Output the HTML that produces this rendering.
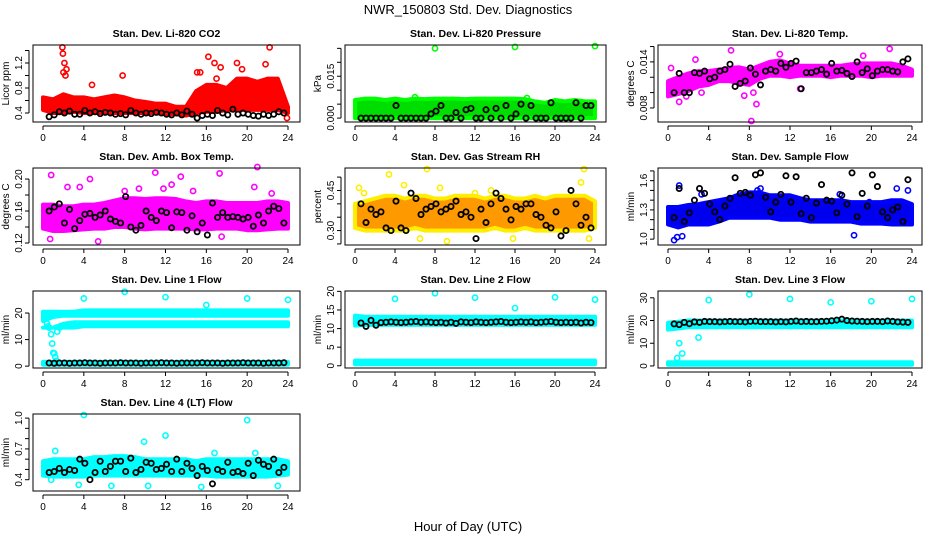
<!DOCTYPE html>
<html><head><meta charset="utf-8"><style>
body{margin:0;background:#fff;}
svg{display:block;font-family:"Liberation Sans",sans-serif;}
</style></head><body>
<svg id="c" width="936" height="540" viewBox="0 0 936 540">
<text x="468" y="14" text-anchor="middle" font-size="13">NWR_150803  Std. Dev. Diagnostics</text>
<text x="468" y="531" text-anchor="middle" font-size="13">Hour of Day (UTC)</text>
</svg>
<script>
// ---- data ----
const hours = [0,1,2,3,4,5,6,7,8,9,10,11,12,13,14,15,16,17,18,19,20,21,22,23,24];
const xTicks = [0,4,8,12,16,20,24];

const co2Lo = [0.45,0.40,0.40,0.42,0.40,0.40,0.40,0.40,0.40,0.40,0.40,0.40,0.38,0.38,0.36,0.40,0.42,0.42,0.45,0.45,0.45,0.45,0.45,0.45,0.40];
const co2Hi = [0.65,0.62,0.70,0.65,0.65,0.62,0.65,0.68,0.65,0.60,0.58,0.55,0.55,0.50,0.50,0.75,0.85,0.85,0.80,0.95,0.95,0.90,0.95,0.95,0.50];
const co2OutX = [1.9,1.95,2.0,2.1,2.3,2.2,7.8,4.8,15.1,15.4,16.2,16.8,17.4,19.0,21.8,22.2,23.9,17.0,19.5];
const co2OutY = [1.45,1.35,1.05,1.2,1.1,1.0,1.0,0.85,1.05,1.05,1.3,1.2,1.13,1.2,1.18,1.45,0.32,0.95,1.1];
const co2Black = [0.34,0.37,0.42,0.40,0.43,0.38,0.38,0.44,0.40,0.42,0.39,0.41,0.40,0.38,0.39,0.37,0.44,0.40,0.38,0.40,0.39,0.41,0.40,0.38,0.37,0.40,0.37,0.43,0.38,0.32,0.36,0.38,0.36,0.44,0.40,0.37,0.46,0.38,0.40,0.38,0.36,0.35,0.38,0.36,0.38,0.42,0.40];

const presLo = [0,0,0,0,0,0,0,0,0,0,0,0,0,0,0,0,0,0,0,0,0,0,0,0,0];
const presHi = [0.0065,0.007,0.007,0.0065,0.007,0.0065,0.007,0.0068,0.007,0.007,0.007,0.0068,0.007,0.007,0.007,0.007,0.007,0.0068,0.006,0.0055,0.0065,0.006,0.0065,0.006,0.006];
const presOutX = [8,16,24,6,17.2];
const presOutY = [0.025,0.0255,0.0258,0.0075,0.0072];
const presBlack = [0,0,0,0,0,0,0,0.0045,0,0,0,0,0,0,0.0015,0.0025,0.0045,0,0,0.002,0,0.003,0.0035,0,0,0.003,0,0.0035,0,0.0045,0,0.0015,0.005,0,0.0045,0,0,0,0.0055,0,0,0,0,0.0055,0,0.0045,0.0045];

const tempLo = [0.0095,0.0098,0.0102,0.0108,0.011,0.0115,0.0115,0.0112,0.011,0.0118,0.0122,0.0122,0.012,0.0122,0.0122,0.0122,0.012,0.0122,0.0122,0.0122,0.012,0.0122,0.0122,0.0122,0.0122];
const tempHi = [0.0115,0.012,0.0125,0.0128,0.0128,0.013,0.0132,0.0133,0.013,0.0135,0.014,0.0142,0.0138,0.0135,0.0135,0.0135,0.0135,0.0135,0.0137,0.0138,0.0138,0.0138,0.0138,0.0135,0.013];
const tempOutX = [8.2,8.7,6.2,2.7,1.1,7.5,0.3,21.8,11,19.2,1.8,3.3,8.4,13];
const tempOutY = [0.0063,0.0085,0.0155,0.0143,0.0088,0.0096,0.0132,0.0157,0.015,0.0148,0.0095,0.0100,0.0100,0.0105];
const tempBlack = [0.0100,0.0125,0.0100,0.0100,0.0126,0.0125,0.0128,0.0118,0.0120,0.0128,0.0130,0.0137,0.0108,0.0112,0.0115,0.0132,0.0124,0.0110,0.0128,0.0130,0.0128,0.0138,0.0133,0.0138,0.0141,0.0105,0.0126,0.0126,0.0128,0.0130,0.0124,0.0138,0.0128,0.0129,0.0125,0.0121,0.0140,0.0126,0.0131,0.0122,0.0128,0.0130,0.0130,0.0128,0.0127,0.0140,0.0144];

const ambLo = [0.138,0.135,0.135,0.136,0.137,0.138,0.138,0.140,0.140,0.138,0.137,0.138,0.138,0.138,0.138,0.137,0.137,0.138,0.138,0.138,0.136,0.136,0.137,0.138,0.138];
const ambHi = [0.168,0.168,0.166,0.166,0.168,0.168,0.170,0.173,0.176,0.176,0.175,0.176,0.176,0.175,0.172,0.170,0.172,0.172,0.170,0.170,0.170,0.170,0.172,0.172,0.170];
const ambOutX = [0.8,4.6,5.4,11.0,11.8,13.5,17.3,21.0,0.7,3.6,9.4,12.6,17.5,20.7,2.4,8.0,14.7,22.4];
const ambOutY = [0.205,0.200,0.122,0.208,0.188,0.203,0.207,0.215,0.125,0.190,0.188,0.193,0.128,0.190,0.190,0.185,0.185,0.182];
const ambBlack = [0.160,0.165,0.169,0.145,0.162,0.138,0.148,0.156,0.157,0.152,0.155,0.160,0.150,0.147,0.145,0.178,0.140,0.136,0.142,0.160,0.152,0.148,0.160,0.158,0.139,0.159,0.158,0.136,0.154,0.134,0.145,0.130,0.170,0.152,0.158,0.152,0.153,0.152,0.150,0.152,0.141,0.155,0.145,0.160,0.166,0.163,0.145];

const rhLo = [0.31,0.30,0.30,0.30,0.30,0.30,0.31,0.30,0.30,0.30,0.30,0.30,0.30,0.30,0.31,0.30,0.30,0.31,0.30,0.30,0.30,0.30,0.30,0.30,0.31];
const rhHi = [0.40,0.41,0.42,0.43,0.43,0.42,0.43,0.43,0.42,0.42,0.43,0.43,0.43,0.42,0.43,0.43,0.42,0.42,0.43,0.42,0.43,0.43,0.43,0.43,0.41];
const rhOutX = [0.4,3.4,4.9,7.2,8.5,9.2,6.5,12.0,15.8,22.9,22.6,23.4,13.6,0.9];
const rhOutY = [0.46,0.51,0.47,0.53,0.46,0.26,0.27,0.44,0.27,0.53,0.48,0.27,0.45,0.44];
const rhBlack = [0.40,0.33,0.38,0.36,0.37,0.31,0.30,0.41,0.31,0.30,0.44,0.42,0.36,0.38,0.39,0.40,0.37,0.38,0.39,0.41,0.36,0.37,0.35,0.27,0.38,0.33,0.40,0.44,0.42,0.38,0.34,0.39,0.38,0.40,0.40,0.36,0.35,0.32,0.31,0.37,0.28,0.30,0.45,0.40,0.32,0.35,0.31];

const flowLo = [1.15,1.12,1.15,1.15,1.15,1.18,1.22,1.22,1.22,1.22,1.22,1.20,1.20,1.20,1.18,1.18,1.18,1.18,1.18,1.16,1.16,1.16,1.15,1.15,1.15];
const flowHi = [1.33,1.33,1.35,1.36,1.38,1.40,1.42,1.46,1.48,1.48,1.45,1.45,1.45,1.42,1.40,1.40,1.40,1.40,1.38,1.38,1.38,1.38,1.40,1.40,1.36];
const flowOutX = [0.6,0.9,1.1,18.3,23.6,22.5,3.3,11.3,9.1,16.9,19.8,8.8,1.4];
const flowOutY = [0.99,1.02,1.55,1.04,1.5,1.52,1.46,1.42,1.52,1.46,1.38,1.50,1.03];
const flowBlack = [1.22,1.52,1.18,1.27,1.40,1.52,1.47,1.36,1.28,1.20,1.34,1.42,1.63,1.47,1.48,1.45,1.66,1.68,1.43,1.28,1.38,1.46,1.65,1.38,1.64,1.26,1.42,1.22,1.37,1.56,1.40,1.39,1.27,1.45,1.36,1.68,1.23,1.47,1.34,1.66,1.54,1.28,1.22,1.30,1.33,1.18,1.61];

const l1aLo = [17,18.5,19,19,19,19,19,19,19,19,19,19,19,19,19,19,19,19,19,19,19,19,19,19,19];
const l1aHi = [20.5,20.5,20.5,20.5,21,21,21,21,21,21,21,21,21,21,21,21,21,21,21,21,21,21,21,21,21];
const l1bLo = [14.5,14.5,14.5,14.5,15,15,15,15,15,15,15,15,15,15,15,15,15,15,15,15,15,15,15,15,15];
const l1bHi = [14.5,14.5,16,16.5,16.5,16.5,16.5,16.5,16.5,16.5,16.5,16.5,16.5,16.5,16.5,16.5,16.5,16.5,16.5,16.5,16.5,16.5,16.5,16.5,16.5];
const l1cLo = [0.5,0.5,0.5,0.5,0.5,0.5,0.5,0.5,0.5,0.5,0.5,0.5,0.5,0.5,0.5,0.5,0.5,0.5,0.5,0.5,0.5,0.5,0.5,0.5,0.5];
const l1cHi = [1.6,1.6,1.6,1.6,1.6,1.6,1.6,1.6,1.6,1.6,1.6,1.6,1.6,1.6,1.6,1.6,1.6,1.6,1.6,1.6,1.6,1.6,1.6,1.6,1.6];
const l1OutX = [0.3,0.4,0.5,0.6,0.8,0.9,1.0,1.1,1.2,1.3,1.4,1.6,4,8,12,16,20,24];
const l1OutY = [19,16,15,14.5,12,8.5,5,4.8,3.5,2,13,14.5,25.5,28,26,23,25.5,25];
const l1Black = [1.2,1.1,1.2,1.2,1.1,1.2,1.2,1.3,1.2,1.2,1.1,1.2,1.2,1.2,1.3,1.2,1.2,1.2,1.1,1.2,1.2,1.2,1.3,1.2,1.2,1.1,1.2,1.2,1.2,1.2,1.3,1.2,1.2,1.2,1.1,1.2,1.2,1.2,1.3,1.2,1.2,1.2,1.1,1.2,1.2,1.2,1.3];

const l2aLo = [10.8,11,11,11,11,11,11,11,11,11,11,11,11,11,11,11,11,11,11,11,11,11,11,11,11];
const l2aHi = [13.5,13.2,13.2,13.2,13.2,13.2,13.2,13.2,13.2,13.2,13.2,13.2,13.2,13.2,13.2,13.2,13.2,13.2,13.2,13.2,13.2,13.2,13.2,13.2,13.2];
const l2bLo = [0.4,0.4,0.4,0.4,0.4,0.4,0.4,0.4,0.4,0.4,0.4,0.4,0.4,0.4,0.4,0.4,0.4,0.4,0.4,0.4,0.4,0.4,0.4,0.4,0.4];
const l2bHi = [1.4,1.4,1.4,1.4,1.4,1.4,1.4,1.4,1.4,1.4,1.4,1.4,1.4,1.4,1.4,1.4,1.4,1.4,1.4,1.4,1.4,1.4,1.4,1.4,1.4];
const l2OutX = [4,8,12,16,20,24];
const l2OutY = [18,19.5,18.3,15.5,18.4,17.8];
const l2Black = [11.5,10.6,12.2,10.9,11.6,11.7,11.8,11.7,11.6,11.7,11.8,11.9,11.7,11.8,11.7,11.6,11.7,11.5,11.7,11.4,11.8,11.7,11.6,11.8,11.7,11.6,11.7,11.8,11.9,11.7,11.6,11.7,11.8,11.7,11.8,11.6,11.7,11.8,11.9,11.7,11.6,11.7,11.6,11.7,11.5,11.7,11.6];

const l3aLo = [16,16.5,17,17,17,17,17,17,17,17,17,17,17,17,17,17,17,17,17,17,17,17,17,17,17];
const l3aHi = [19,19.5,20,20,20,20,20,20,20,20,20,20,20,20,20,20,20,20,20,20,20,20,20,20,20];
const l3bLo = [0.5,0.5,0.5,0.5,0.5,0.5,0.5,0.5,0.5,0.5,0.5,0.5,0.5,0.5,0.5,0.5,0.5,0.5,0.5,0.5,0.5,0.5,0.5,0.5,0.5];
const l3bHi = [1.6,1.6,1.6,1.6,1.6,1.6,1.6,1.6,1.6,1.6,1.6,1.6,1.6,1.6,1.6,1.6,1.6,1.6,1.6,1.6,1.6,1.6,1.6,1.6,1.6];
const l3OutX = [0.9,1.1,1.4,3,4,8,12,16,20,24];
const l3OutY = [3.5,10,5.5,12.5,29,31.5,29.5,28,28.5,29.5];
const l3Black = [18.5,18.2,19.2,18.6,19.4,19.2,19.6,19.5,19.5,19.4,19.5,19.6,19.5,19.5,19.4,19.6,19.7,19.5,19.5,19.5,19.4,19.5,19.4,19.6,19.8,19.5,19.6,19.5,19.5,19.6,19.7,19.9,20.2,20.6,20.0,19.8,19.7,19.6,19.5,19.6,19.6,19.5,19.8,19.6,19.4,19.3,19.2];

const l4Lo = [0.44,0.43,0.43,0.43,0.43,0.44,0.44,0.44,0.44,0.44,0.44,0.44,0.44,0.44,0.44,0.44,0.44,0.43,0.43,0.43,0.43,0.43,0.43,0.44,0.45];
const l4Hi = [0.58,0.60,0.60,0.60,0.60,0.62,0.62,0.63,0.63,0.62,0.60,0.60,0.60,0.60,0.60,0.58,0.60,0.60,0.60,0.60,0.60,0.60,0.60,0.60,0.58];
const l4OutX = [4,9.9,12,20,1.2,10.3,15.5,23,3.5,16.8,20.8,0.8,6.7];
const l4OutY = [1.03,0.77,0.83,0.98,0.68,0.34,0.33,0.34,0.35,0.66,0.66,0.40,0.34];
const l4Black = [0.47,0.48,0.51,0.47,0.50,0.49,0.60,0.56,0.40,0.47,0.58,0.48,0.53,0.58,0.58,0.48,0.61,0.47,0.50,0.57,0.56,0.50,0.51,0.55,0.48,0.60,0.48,0.56,0.51,0.44,0.53,0.49,0.36,0.50,0.48,0.57,0.47,0.48,0.46,0.56,0.44,0.59,0.55,0.53,0.60,0.47,0.52];

// ---- layout ----
const colX0 = [43,355,668], colX24 = [288,595,912], colBoxL=[33,345,658], colBoxR=[300,606,922];
const rowTop = [45,168,291,414], boxH = 77;

const panels = [
 {name:'co2',col:0,row:0,title:'Stan. Dev. Li-820 CO2',ylab:'Licor ppm',ymin:0.256,ymax:1.488,ticks:[0.4,0.6,0.8,1.0,1.2,1.4],labels:[0.4,0.8,1.2],fmt:1,color:'#ff0000',edge:'#ff0000',bands:[[co2Lo,co2Hi]],ox:co2OutX,oy:co2OutY,black:co2Black},
 {name:'pressure',col:1,row:0,title:'Stan. Dev. Li-820 Pressure',ylab:'kPa',ymin:-0.0014,ymax:0.0262,ticks:[0,0.005,0.01,0.015,0.02,0.025],labels:[0,0.015],fmt:3,color:'#00dd00',edge:'#00ff00',bands:[[presLo,presHi]],ox:presOutX,oy:presOutY,black:presBlack},
 {name:'temp',col:2,row:0,title:'Stan. Dev. Li-820 Temp.',ylab:'degrees C',ymin:0.00617,ymax:0.0162,ticks:[0.008,0.010,0.012,0.014,0.016],labels:[0.008,0.014],fmt:3,color:'#ff00ff',edge:'#ff00ff',bands:[[tempLo,tempHi]],ox:tempOutX,oy:tempOutY,black:tempBlack},
 {name:'amb-box-temp',col:0,row:1,title:'Stan. Dev. Amb. Box Temp.',ylab:'degrees C',ymin:0.1175,ymax:0.2138,ticks:[0.12,0.14,0.16,0.18,0.20],labels:[0.12,0.16,0.20],fmt:2,color:'#ff00ff',edge:'#ff00ff',bands:[[ambLo,ambHi]],ox:ambOutX,oy:ambOutY,black:ambBlack},
 {name:'gas-stream-rh',col:1,row:1,title:'Stan. Dev. Gas Stream RH',ylab:'percent',ymin:0.246,ymax:0.534,ticks:[0.25,0.30,0.35,0.40,0.45,0.50],labels:[0.30,0.45],fmt:2,color:'#ff9900',edge:'#ffee00',bands:[[rhLo,rhHi]],ox:rhOutX,oy:rhOutY,black:rhBlack},
 {name:'sample-flow',col:2,row:1,title:'Stan. Dev. Sample Flow',ylab:'ml/min',ymin:0.94,ymax:1.73,ticks:[1.0,1.1,1.2,1.3,1.4,1.5,1.6,1.7],labels:[1.0,1.3,1.6],fmt:1,color:'#0000ee',edge:'#0000ff',bands:[[flowLo,flowHi]],ox:flowOutX,oy:flowOutY,black:flowBlack},
 {name:'line1-flow',col:0,row:2,title:'Stan. Dev. Line 1 Flow',ylab:'ml/min',ymin:-0.7,ymax:28.3,ticks:[0,10,20],labels:[0,10,20],fmt:0,color:'#00ffff',edge:'#00ffff',bands:[[l1aLo,l1aHi],[l1bLo,l1bHi],[l1cLo,l1cHi]],ox:l1OutX,oy:l1OutY,black:l1Black},
 {name:'line2-flow',col:1,row:2,title:'Stan. Dev. Line 2 Flow',ylab:'ml/min',ymin:-0.6,ymax:20.1,ticks:[0,5,10,15,20],labels:[0,5,10,15,20],fmt:0,color:'#00ffff',edge:'#00ffff',bands:[[l2aLo,l2aHi],[l2bLo,l2bHi]],ox:l2OutX,oy:l2OutY,black:l2Black},
 {name:'line3-flow',col:2,row:2,title:'Stan. Dev. Line 3 Flow',ylab:'ml/min',ymin:-0.9,ymax:33,ticks:[0,10,20,30],labels:[0,10,20,30],fmt:0,color:'#00ffff',edge:'#00ffff',bands:[[l3aLo,l3aHi],[l3bLo,l3bHi]],ox:l3OutX,oy:l3OutY,black:l3Black},
 {name:'line4-flow',col:0,row:3,title:'Stan. Dev. Line 4 (LT) Flow',ylab:'ml/min',ymin:0.29,ymax:1.04,ticks:[0.4,0.5,0.6,0.7,0.8,0.9,1.0],labels:[0.4,0.7,1.0],fmt:1,color:'#00ffff',edge:'#00ffff',bands:[[l4Lo,l4Hi]],ox:l4OutX,oy:l4OutY,black:l4Black}
];

const NS='http://www.w3.org/2000/svg';
const svg=document.getElementById('c');
function mk(tag,attrs,parent){const e=document.createElementNS(NS,tag);for(const k in attrs)e.setAttribute(k,attrs[k]);(parent||svg).appendChild(e);return e;}

panels.forEach(p=>{
  const g=mk('g',{});
  
  
  const L=colBoxL[p.col],R=colBoxR[p.col],T=rowTop[p.row],B=T+boxH;
  const x0=colX0[p.col],x24=colX24[p.col];
  const sx=h=>x0+(x24-x0)*h/24;
  const sy=v=>B-(v-p.ymin)/(p.ymax-p.ymin)*boxH;
  const cg=mk('g',{},g);
  // bands
  p.bands.forEach(b=>{
    let d='';
    hours.forEach((h,i)=>{d+=(i?'L':'M')+sx(h).toFixed(1)+','+sy(b[1][i]).toFixed(1);});
    for(let i=hours.length-1;i>=0;i--) d+='L'+sx(hours[i]).toFixed(1)+','+sy(b[0][i]).toFixed(1);
    const e=mk('path',{d:d+'Z',fill:p.color,stroke:p.edge,'stroke-width':4,'stroke-linejoin':'round'},cg);
    
    
  });
  p.ox.forEach((h,i)=>{
    const e=mk('circle',{cx:sx(h),cy:sy(p.oy[i]),r:2.6,fill:'none',stroke:p.edge,'stroke-width':1.6},cg);
    
    
  });
  p.black.forEach((v,i)=>{
    const e=mk('circle',{cx:sx(0.6+i*0.5),cy:sy(v),r:2.6,fill:'none',stroke:'#000','stroke-width':1.8},cg);
    
    
  });
  // box
  const bx=mk('rect',{x:L,y:T,width:R-L,height:boxH,fill:'none',stroke:'#000','stroke-width':1},g);
  
  
  // x axis
  mk('line',{x1:sx(0),x2:sx(24),y1:B+4,y2:B+4,stroke:'#000'},g);
  xTicks.forEach(t=>{
    mk('line',{x1:sx(t),x2:sx(t),y1:B+4,y2:B+8,stroke:'#000'},g);
    const e=mk('text',{x:sx(t),y:B+19,'text-anchor':'middle','font-size':10},g);
    e.textContent=t;
    
    
  });
  // y axis
  mk('line',{x1:L-4,x2:L-4,y1:sy(p.ticks[0]),y2:sy(p.ticks[p.ticks.length-1]),stroke:'#000'},g);
  p.ticks.forEach(t=>mk('line',{x1:L-8,x2:L-4,y1:sy(t),y2:sy(t),stroke:'#000'},g));
  p.labels.forEach(t=>{
    const e=mk('text',{transform:`translate(${L-11},${sy(t)}) rotate(-90)`,'text-anchor':'middle','font-size':10},g);
    e.textContent=t.toFixed(p.fmt);
    
    
  });
  const yl=mk('text',{transform:`translate(${L-24},${T+boxH/2}) rotate(-90)`,'text-anchor':'middle','font-size':10},g);
  yl.textContent=p.ylab;
  
  
  const tt=mk('text',{x:(L+R)/2,y:T-8,'text-anchor':'middle','font-size':10.5,'font-weight':'bold'},g);
  tt.textContent=p.title;
  
  
});
</script>
</body></html>
